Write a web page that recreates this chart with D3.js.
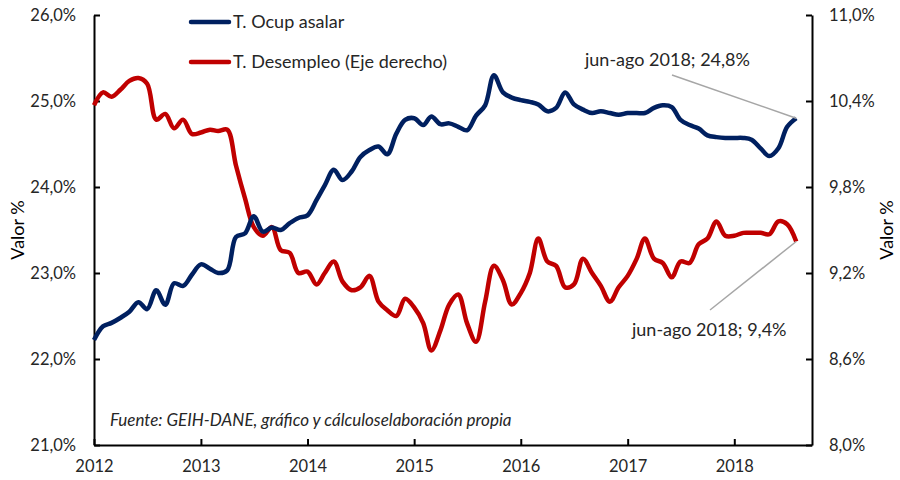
<!DOCTYPE html>
<html>
<head>
<meta charset="utf-8">
<script src="https://cdn.jsdelivr.net/npm/d3@7"></script>
<style>
  body { margin: 0; background: #fff; }
  svg { display: block; font-family: Lato, "Open Sans", sans-serif; }
</style>
</head>
<body>
<div id="chart"></div>
<script>
// monthly rolling quarters, first one ends Jan 2012
const firstMonth = new Date(2012, 0, 1);

// T. Ocup asalar (left axis, %)
const ocupAsalar = [
  22.22, 22.38, 22.42, 22.48, 22.55, 22.66, 22.58, 22.80, 22.63, 22.88,
  22.85, 22.98, 23.10, 23.05, 23.00, 23.03, 23.42, 23.46, 23.66, 23.48,
  23.53, 23.50, 23.58, 23.64, 23.67, 23.85, 24.02, 24.20, 24.08, 24.18,
  24.35, 24.43, 24.47, 24.38, 24.62, 24.78, 24.80, 24.72, 24.82, 24.73,
  24.74, 24.70, 24.66, 24.83, 24.95, 25.30, 25.10, 25.04, 25.01, 24.99,
  24.96, 24.88, 24.92, 25.10, 24.96, 24.90, 24.86, 24.88, 24.86, 24.84,
  24.86, 24.86, 24.86, 24.92, 24.95, 24.93, 24.78, 24.72, 24.68, 24.60,
  24.58, 24.57, 24.57, 24.57, 24.55, 24.45, 24.36, 24.45, 24.70, 24.80
];

// T. Desempleo (right axis, %)
const desempleo = [
  10.37, 10.46, 10.43, 10.48, 10.54, 10.56, 10.52, 10.27, 10.31, 10.21,
  10.27, 10.17, 10.18, 10.20, 10.19, 10.20, 9.95, 9.72, 9.52, 9.46,
  9.52, 9.36, 9.34, 9.20, 9.21, 9.12, 9.20, 9.28, 9.14, 9.08,
  9.10, 9.18, 9.00, 8.94, 8.90, 9.02, 8.96, 8.85, 8.66, 8.80,
  8.98, 9.05, 8.85, 8.72, 9.00, 9.25, 9.15, 8.98, 9.06, 9.20,
  9.44, 9.28, 9.25, 9.10, 9.12, 9.30, 9.20, 9.11, 9.00, 9.10,
  9.18, 9.30, 9.44, 9.30, 9.27, 9.17, 9.28, 9.27, 9.40, 9.44,
  9.56, 9.46, 9.46, 9.48, 9.48, 9.48, 9.47, 9.56, 9.54, 9.42
];

const leftTicks = [21, 22, 23, 24, 25, 26];
const rightTicks = [8.0, 8.6, 9.2, 9.8, 10.4, 11.0];
const seriesNames = ["T. Ocup asalar", "T. Desempleo (Eje derecho)"];
const labelOcup = "jun-ago 2018; 24,8%";
const labelDes = "jun-ago 2018; 9,4%";
const sourceNote = "Fuente: GEIH-DANE, gráfico y cálculoselaboración propia";

const width = 900, height = 480;
const margin = {top: 15, right: 88, bottom: 35, left: 94};
const blue = "#002060", red = "#c00000", grey = "#a6a6a6";

const months = d3.timeMonth.range(firstMonth, d3.timeMonth.offset(firstMonth, ocupAsalar.length));

const svg = d3.select("#chart").append("svg")
  .attr("width", width)
  .attr("height", height);

const x = d3.scaleTime()
  .domain([firstMonth, new Date(2018, 8, 24)])
  .range([margin.left, width - margin.right]);
const yL = d3.scaleLinear().domain([21, 26]).range([height - margin.bottom, margin.top]);
const yR = d3.scaleLinear().domain([8, 11]).range([height - margin.bottom, margin.top]);

const fmt = d => d.toFixed(1).replace(".", ",") + "%";

// axes, ticks pointing into the plot
const axL = svg.append("g")
  .attr("transform", `translate(${margin.left},0)`)
  .call(d3.axisLeft(yL).tickValues(leftTicks).tickFormat(fmt).tickSizeInner(-6).tickSizeOuter(0).tickPadding(18));
const axR = svg.append("g")
  .attr("transform", `translate(${width - margin.right},0)`)
  .call(d3.axisRight(yR).tickValues(rightTicks).tickFormat(fmt).tickSizeInner(-6).tickSizeOuter(0).tickPadding(17));
const axB = svg.append("g")
  .attr("transform", `translate(0,${height - margin.bottom})`)
  .call(d3.axisBottom(x).ticks(d3.timeYear.every(1)).tickFormat(d3.timeFormat("%Y")).tickSizeInner(-6).tickSizeOuter(0).tickPadding(15));

[axL, axR, axB].forEach(a => {
  a.select(".domain").attr("stroke", "#000").attr("stroke-width", 2);
  a.selectAll(".tick line").attr("stroke", "#000").attr("stroke-width", 2);
  a.selectAll(".tick text").attr("fill", "#262626").style("font-size", "16.5px").style("font-family", "Lato, sans-serif");
});

// axis titles
svg.append("text")
  .attr("transform", `translate(24,${(margin.top + height - margin.bottom) / 2}) rotate(-90)`)
  .attr("text-anchor", "middle")
  .style("font-size", "18px")
  .attr("fill", "#000")
  .text("Valor %");
svg.append("text")
  .attr("transform", `translate(${width - 7},${(margin.top + height - margin.bottom) / 2}) rotate(-90)`)
  .attr("text-anchor", "middle")
  .style("font-size", "18px")
  .attr("fill", "#000")
  .text("Valor %");

// lines
const lineL = d3.line().x((d, i) => x(months[i])).y(d => yL(d)).curve(d3.curveCatmullRom.alpha(0.5));
const lineR = d3.line().x((d, i) => x(months[i])).y(d => yR(d)).curve(d3.curveCatmullRom.alpha(0.5));

svg.append("path").datum(desempleo)
  .attr("d", lineR)
  .attr("fill", "none")
  .attr("stroke", red)
  .attr("stroke-width", 4.5)
  .attr("stroke-linejoin", "round");
svg.append("path").datum(ocupAsalar)
  .attr("d", lineL)
  .attr("fill", "none")
  .attr("stroke", blue)
  .attr("stroke-width", 4.5)
  .attr("stroke-linejoin", "round");

// legend
const legend = svg.append("g");
[blue, red].forEach((c, i) => {
  const ly = 22 + i * 40;
  legend.append("line")
    .attr("x1", 191).attr("x2", 229).attr("y1", ly).attr("y2", ly)
    .attr("stroke", c).attr("stroke-width", 4.5).attr("stroke-linecap", "round");
  legend.append("text")
    .attr("x", 233).attr("y", ly)
    .attr("dy", "0.35em")
    .style("font-size", "18px")
    .attr("fill", "#262626")
    .text(seriesNames[i]);
});

// data labels for the last point
const last = months.length - 1;
const lx = x(months[last]);
svg.append("line")
  .attr("x1", 672).attr("y1", 75)
  .attr("x2", lx).attr("y2", yL(ocupAsalar[last]))
  .attr("stroke", grey).attr("stroke-width", 1.5);
svg.append("text")
  .attr("x", 585).attr("y", 60).attr("dy", "0.35em")
  .style("font-size", "18px").attr("fill", "#262626")
  .text(labelOcup);
svg.append("line")
  .attr("x1", 710).attr("y1", 310)
  .attr("x2", lx).attr("y2", yR(desempleo[last]))
  .attr("stroke", grey).attr("stroke-width", 1.5);
svg.append("text")
  .attr("x", 632).attr("y", 330).attr("dy", "0.35em")
  .style("font-size", "18px").attr("fill", "#262626")
  .text(labelDes);

// source note
svg.append("text")
  .attr("x", 110).attr("y", 426)
  .style("font-size", "17px")
  .style("font-style", "italic")
  .attr("fill", "#262626")
  .text(sourceNote);
</script>
</body>
</html>
